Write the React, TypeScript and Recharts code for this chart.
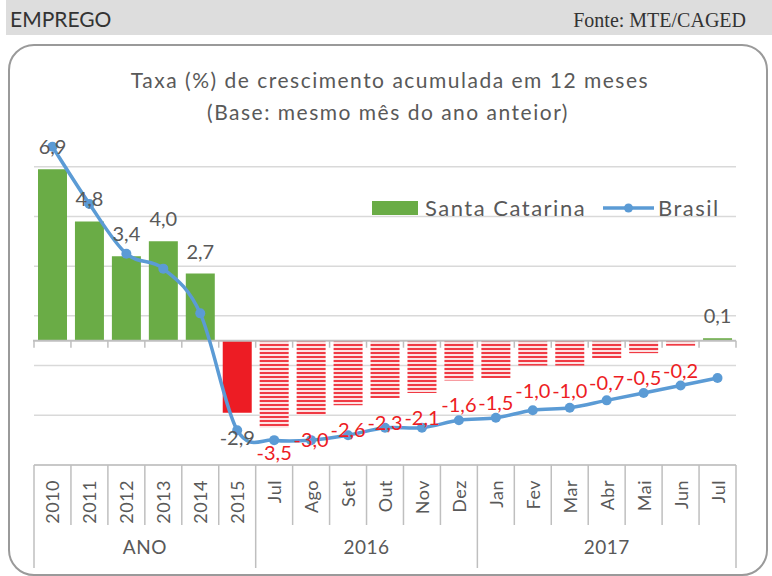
import React from "react"
import {
  ComposedChart,
  Bar,
  Line,
  Cell,
  XAxis,
  YAxis,
  CartesianGrid,
  LabelList,
  ReferenceLine,
} from "recharts"

// categorias (eixo multinível)
const anos = ["2010", "2011", "2012", "2013", "2014", "2015"]
const meses2016 = ["Jul", "Ago", "Set", "Out", "Nov", "Dez"]
const meses2017 = ["Jan", "Fev", "Mar", "Abr", "Mai", "Jun", "Jul"]
const grupos = [
  { rotulo: "ANO", itens: anos },
  { rotulo: "2016", itens: meses2016 },
  { rotulo: "2017", itens: meses2017 },
]

// taxa (%) acumulada em 12 meses
const santaCatarina = [6.9, 4.8, 3.4, 4.0, 2.7, -2.9, -3.5, -3.0, -2.6, -2.3, -2.1, -1.6, -1.5, -1.0, -1.0, -0.7, -0.5, -0.2, 0.1]
const brasil = [7.8, 5.5, 3.5, 2.9, 1.1, -3.6, -4.0, -4.0, -3.8, -3.5, -3.5, -3.2, -3.1, -2.8, -2.7, -2.4, -2.1, -1.8, -1.5]

const yTicks = [-5, -3, -1, 1, 3, 5, 7]

const W = 772
const H = 576
const MARGIN = { top: 117, right: 36, bottom: 6, left: 34 }
const XAXIS_H = 105

const GREEN = "#6aac46"
const RED = "#ed1c24"
const BLUE = "#5b9bd5"
const GRAY_TXT = "#595959"
const AXIS = "#bfbfbf"
const FONT = "Lato, 'Open Sans', sans-serif"

const rows = grupos.flatMap((g, gi) =>
  g.itens.map((rotulo, pos) => ({ grupo: g.rotulo, gi, pos, tamanho: g.itens.length, rotulo })),
).map((r, i) => ({ ...r, cat: `${r.grupo}-${r.rotulo}`, sc: santaCatarina[i], br: brasil[i] }))

const BAND = (W - MARGIN.left - MARGIN.right) / rows.length

const fmt = (v: number) => v.toFixed(1).replace(".", ",")

const barFill = (r: any) => {
  if (r.sc >= 0) return GREEN
  return r.gi === 0 ? RED : "url(#listras)"
}
const labelColor = (r: any) => (r.gi === 0 || r.sc >= 0 ? GRAY_TXT : RED)

// suavização tipo Excel (Catmull-Rom)
const excelSmooth = (context: any) => {
  let pts: number[][] = []
  return {
    areaStart() {},
    areaEnd() {},
    lineStart() {
      pts = []
    },
    point(x: number, y: number) {
      pts.push([+x, +y])
    },
    lineEnd() {
      const n = pts.length
      if (!n) return
      context.moveTo(pts[0][0], pts[0][1])
      for (let i = 0; i < n - 1; i++) {
        const p0 = pts[Math.max(i - 1, 0)]
        const p1 = pts[i]
        const p2 = pts[i + 1]
        const p3 = pts[Math.min(i + 2, n - 1)]
        context.bezierCurveTo(
          p1[0] + (p2[0] - p0[0]) / 6,
          p1[1] + (p2[1] - p0[1]) / 6,
          p2[0] - (p3[0] - p1[0]) / 6,
          p2[1] - (p3[1] - p1[1]) / 6,
          p2[0],
          p2[1],
        )
      }
    },
  }
}

const CategoryTick = (props: any) => {
  const { x, y, payload } = props
  const r = rows[payload.index]
  if (!r) return null
  const left = x - BAND / 2
  const inicio = r.pos === 0
  const ultimo = payload.index === rows.length - 1
  return (
    <g>
      <line x1={left} x2={left} y1={y} y2={y + (inicio ? 103 : 60)} stroke={AXIS} strokeWidth={1.5} />
      {ultimo && <line x1={x + BAND / 2} x2={x + BAND / 2} y1={y} y2={y + 103} stroke={AXIS} strokeWidth={1.5} />}
      <text
        transform={`translate(${x},${y + 15}) rotate(-90)`}
        textAnchor="end"
        dominantBaseline="central"
        fontSize={18}
        fontFamily={FONT}
        letterSpacing={0.5}
        fill={GRAY_TXT}
      >
        {r.rotulo}
      </text>
      {inicio && (
        <text
          x={left + (r.tamanho * BAND) / 2}
          y={y + 89}
          textAnchor="middle"
          fontSize={19}
          fontFamily={FONT}
          letterSpacing={0.5}
          fill={GRAY_TXT}
        >
          {r.grupo}
        </text>
      )}
    </g>
  )
}

const ValueLabel = (props: any) => {
  const { x, y, width, height, value, index } = props
  const r = rows[index]
  const top = Math.min(y, y + height)
  const bottom = Math.max(y, y + height)
  const cy = value >= 0 ? top - 23 : bottom + 24
  return (
    <text x={x + width / 2} y={cy} textAnchor="middle" dominantBaseline="central" fontSize={20} fontFamily={FONT} fill={labelColor(r)}>
      {fmt(value)}
    </text>
  )
}

const ZeroAxis = (props: any) => {
  const { x1, x2, y1 } = props
  const marks = rows.map((_, i) => x1 + i * BAND).concat([x2])
  return (
    <g>
      <line x1={x1 - 1} x2={x2} y1={y1} y2={y1} stroke={AXIS} strokeWidth={2} />
      {marks.map((mx, i) => (
        <line key={i} x1={mx} x2={mx} y1={y1} y2={y1 + 7} stroke={AXIS} strokeWidth={1.5} />
      ))}
    </g>
  )
}

export default function App() {
  return (
    <div style={{ position: "absolute", left: 0, top: 0, width: W, height: H, background: "#fff", overflow: "hidden" }}>
      <svg width={0} height={0} style={{ position: "absolute" }}>
        <defs>
          <pattern id="listras" width={4} height={4} patternUnits="userSpaceOnUse">
            <rect width={4} height={4} fill="#fde3e3" />
            <rect width={4} height={2} fill="#f03a44" />
          </pattern>
        </defs>
      </svg>
      <div style={{ position: "absolute", left: 6, top: 0, width: W - 6, height: 35, background: "#dddddd" }} />
      <div
        style={{
          position: "absolute",
          left: 8,
          top: 44,
          width: 756,
          height: 528,
          border: "2px solid #9a9a9a",
          borderRadius: 26,
        }}
      />
      <div style={{ position: "absolute", left: 0, top: 0 }}>
        <ComposedChart width={W} height={H} data={rows} margin={MARGIN}>
          <CartesianGrid vertical={false} horizontalValues={yTicks} stroke="#d9d9d9" strokeWidth={1.5} />
          <YAxis hide domain={[-5, 9]} ticks={yTicks} allowDataOverflow />
          <XAxis
            dataKey="cat"
            height={XAXIS_H}
            interval={0}
            tickSize={0}
            tickMargin={0}
            tickLine={false}
            axisLine={{ stroke: AXIS, strokeWidth: 1.5 }}
            tick={<CategoryTick />}
          />
          <ReferenceLine y={0} shape={<ZeroAxis />} />
          <Bar dataKey="sc" barSize={29} isAnimationActive={false}>
            {rows.map((r, i) => (
              <Cell key={i} fill={barFill(r)} />
            ))}
            <LabelList dataKey="sc" content={<ValueLabel />} />
          </Bar>
          <Line
            dataKey="br"
            type={excelSmooth as any}
            stroke={BLUE}
            strokeWidth={3.5}
            dot={{ r: 5, fill: BLUE, stroke: BLUE, strokeWidth: 0 }}
            activeDot={false}
            isAnimationActive={false}
          />
        </ComposedChart>
      </div>
      <svg width={W} height={H} style={{ position: "absolute", left: 0, top: 0, pointerEvents: "none" }}>
        <text x={10} y={27} fontSize={21} fontFamily={FONT} fill="#333">
          EMPREGO
        </text>
        <text x={746} y={27} textAnchor="end" fontSize={20} fontFamily="'Liberation Serif', serif" fill="#333">
          Fonte: MTE/CAGED
        </text>
        <text x={390} y={88} textAnchor="middle" fontSize={21} letterSpacing={1.5} fontFamily={FONT} fill={GRAY_TXT}>
          Taxa (%) de crescimento acumulada em 12 meses
        </text>
        <text x={388} y={120} textAnchor="middle" fontSize={21} letterSpacing={1.5} fontFamily={FONT} fill={GRAY_TXT}>
          (Base: mesmo mês do ano anteior)
        </text>
        <rect x={372} y={201} width={46} height={14} fill={GREEN} />
        <text x={425} y={216} fontSize={22} letterSpacing={1.5} fontFamily={FONT} fill={GRAY_TXT}>
          Santa Catarina
        </text>
        <line x1={603} x2={654} y1={208} y2={208} stroke={BLUE} strokeWidth={3.5} />
        <circle cx={628.5} cy={208} r={4.5} fill={BLUE} />
        <text x={658} y={216} fontSize={22} letterSpacing={1.5} fontFamily={FONT} fill={GRAY_TXT}>
          Brasil
        </text>
      </svg>
    </div>
  )
}
